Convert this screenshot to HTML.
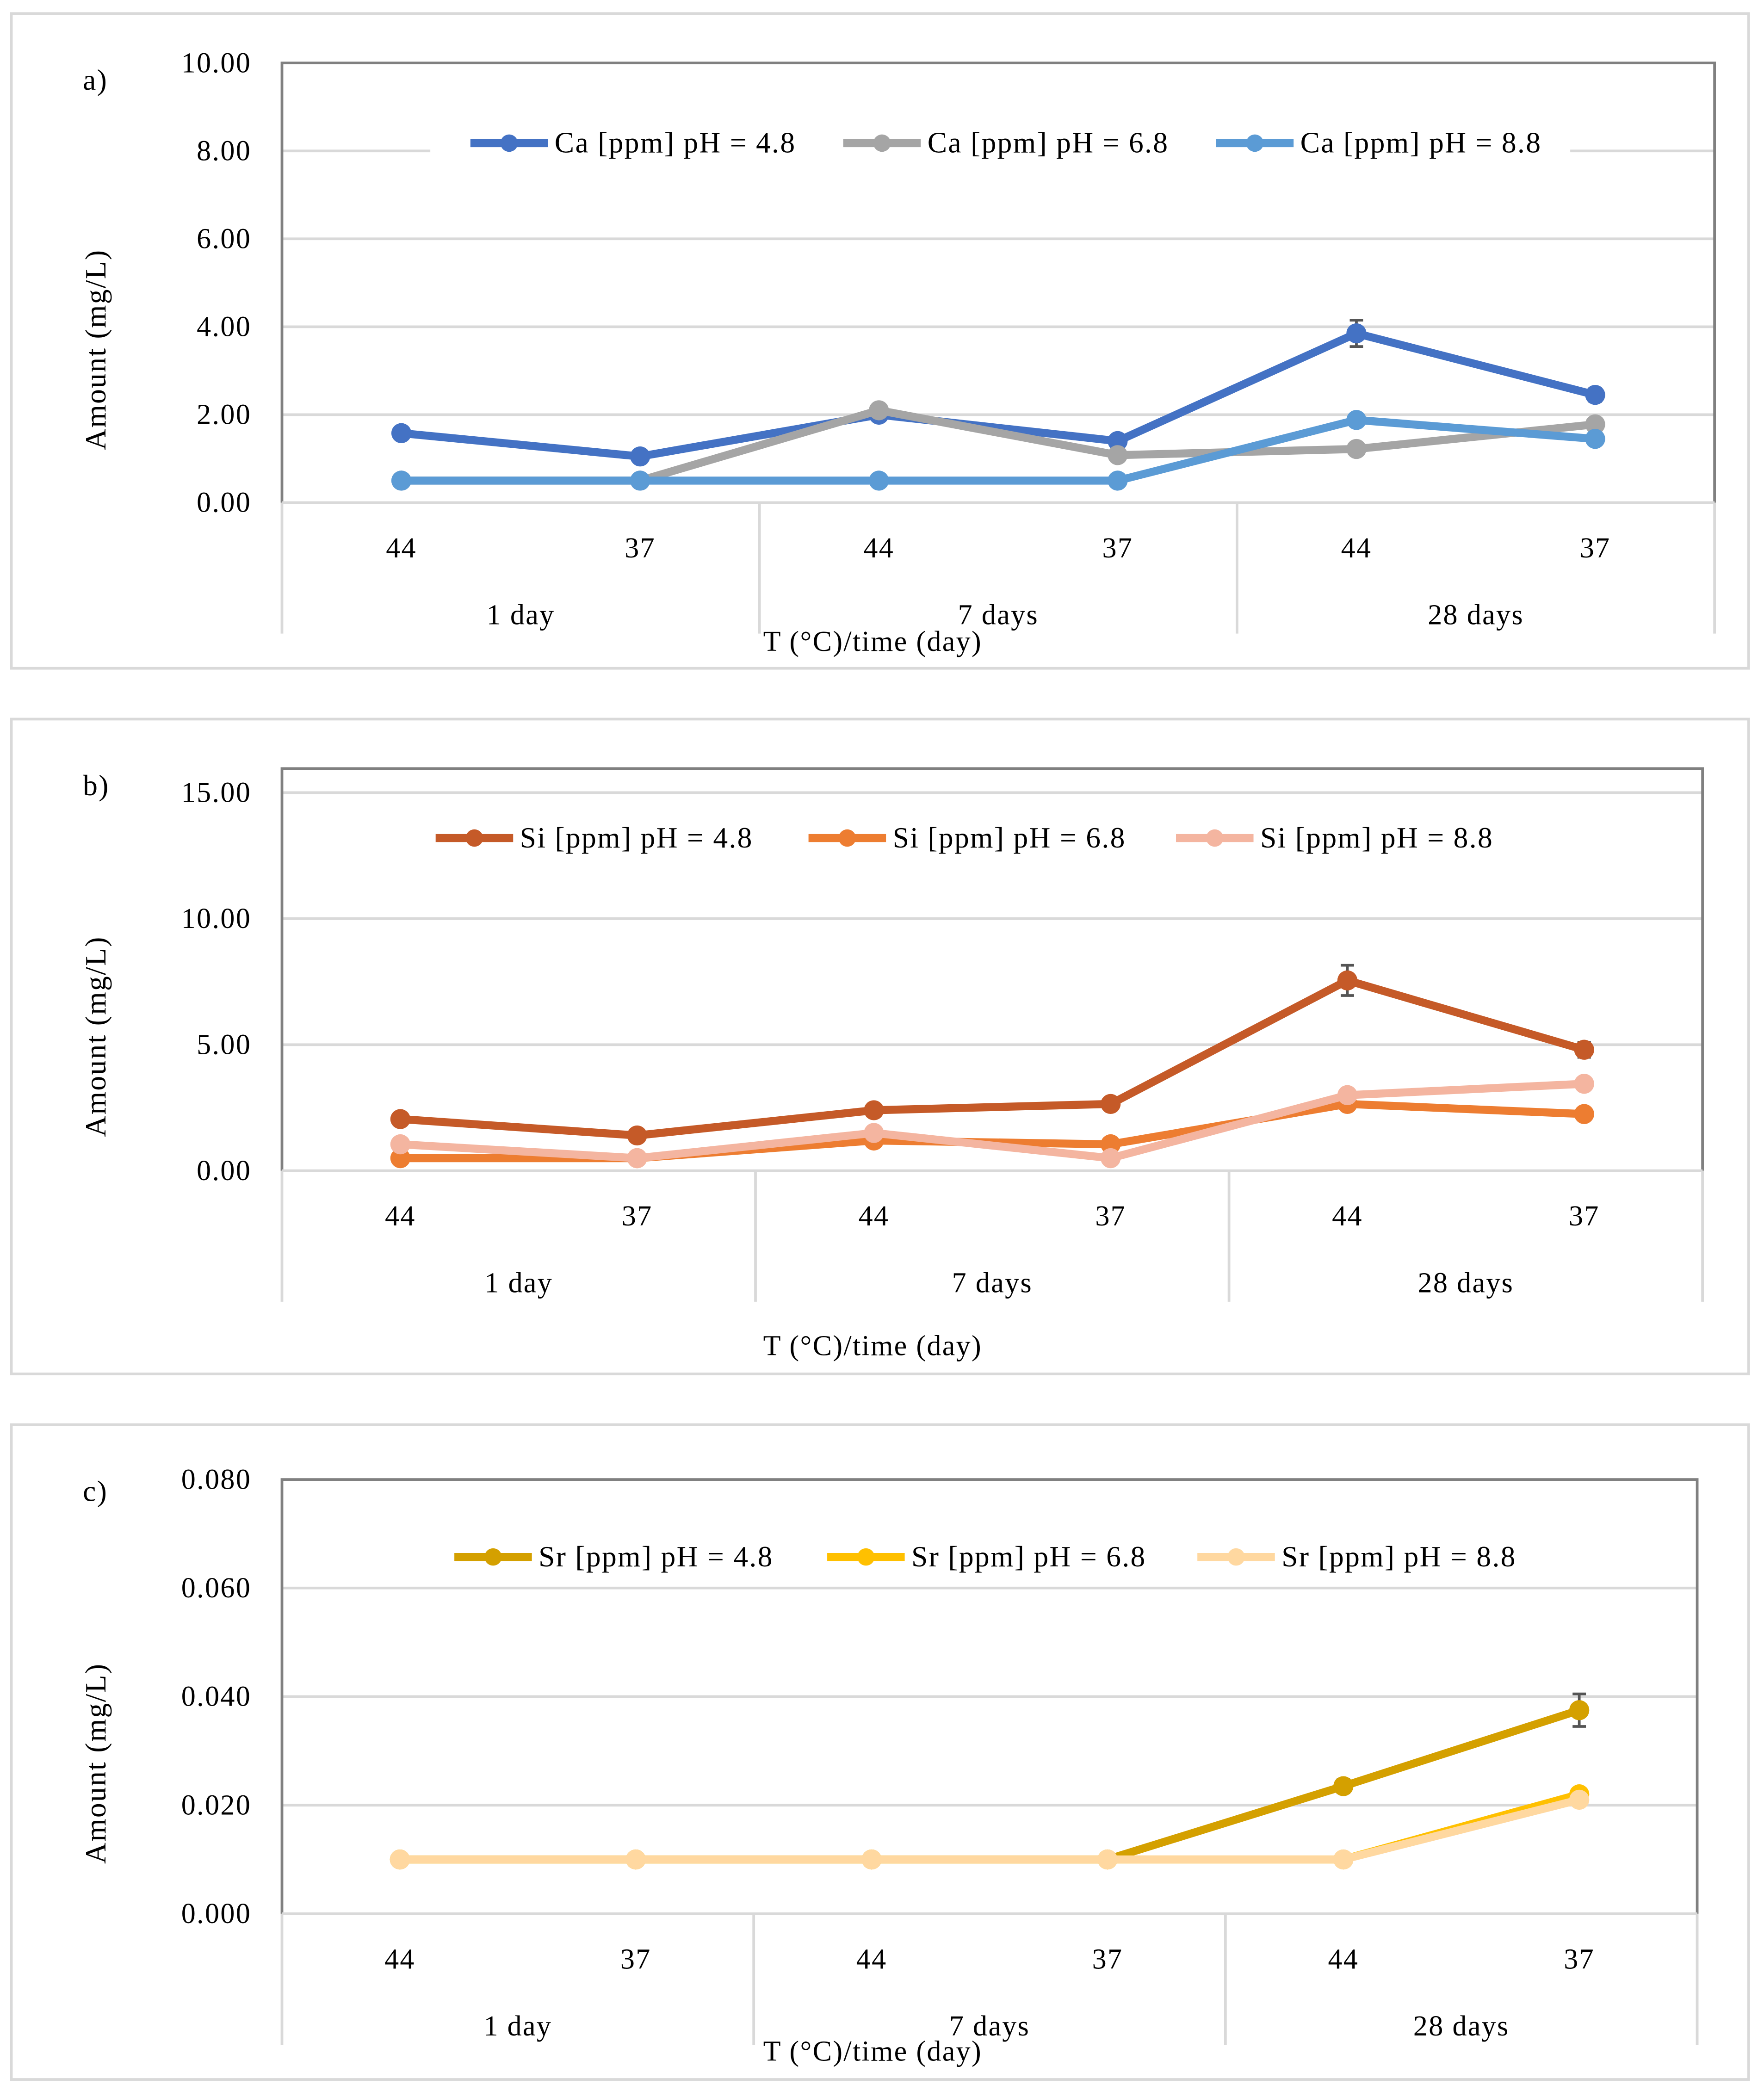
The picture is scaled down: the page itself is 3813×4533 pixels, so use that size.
<!DOCTYPE html>
<html><head><meta charset="utf-8"><style>
html,body{margin:0;padding:0;background:#fff}
svg{display:block}
text{font-family:"Liberation Serif",serif;fill:#000;letter-spacing:0.8px}
</style></head><body>
<svg id="chart" width="3813" height="4533" viewBox="0 0 1320 1569" xmlns="http://www.w3.org/2000/svg"></svg>
<script>
const categories = ["44","37","44","37","44","37"];
const groups = ["1 day","7 days","28 days"];
// Panel a (Ca)
const caLabels = ["Ca [ppm] pH = 4.8","Ca [ppm] pH = 6.8","Ca [ppm] pH = 8.8"];
const ca48 = [1.58,1.05,2.0,1.4,3.85,2.45];
const ca68 = [0.5,0.5,2.1,1.08,1.22,1.78];
const ca88 = [0.5,0.5,0.5,0.5,1.88,1.45];
const ca48Err = [0,0,0,0,0.3,0.15];
const caTicks = ["0.00","2.00","4.00","6.00","8.00","10.00"];
// Panel b (Si)
const siLabels = ["Si [ppm] pH = 4.8","Si [ppm] pH = 6.8","Si [ppm] pH = 8.8"];
const si48 = [2.05,1.4,2.4,2.65,7.55,4.8];
const si68 = [0.5,0.5,1.2,1.05,2.65,2.25];
const si88 = [1.05,0.5,1.5,0.5,3.0,3.45];
const si48Err = [0,0,0,0,0.6,0.3];
const siTicks = ["0.00","5.00","10.00","15.00"];
// Panel c (Sr)
const srLabels = ["Sr [ppm] pH = 4.8","Sr [ppm] pH = 6.8","Sr [ppm] pH = 8.8"];
const sr48 = [0.01,0.01,0.01,0.01,0.0235,0.0375];
const sr68 = [0.01,0.01,0.01,0.01,0.01,0.022];
const sr88 = [0.01,0.01,0.01,0.01,0.01,0.021];
const sr48Err = [0,0,0,0,0.0012,0.003];
const srTicks = ["0.000","0.020","0.040","0.060","0.080"];

const svg = document.getElementById('chart');
const NS = "http://www.w3.org/2000/svg";
function mk(tag, attrs, parent, txt){
  const e = document.createElementNS(NS, tag);
  for (const k in attrs) e.setAttribute(k, attrs[k]);
  if (txt !== undefined) e.textContent = txt;
  (parent||svg).appendChild(e);
  return e;
}

function panel(cfg){
  const g = mk('g', {});
  
  
  const fr = mk('rect', {x:8.5,y:cfg.fy,width:1300,height:490,fill:'#fff',stroke:'#d9d9d9','stroke-width':2}, g);
  
  
  const L = 211, R = cfg.right, T = cfg.top, B = cfg.bottom;
  const y = v => B - (v - 0) / cfg.max * (B - cfg.maxY);
  const cw = (R - L) / categories.length;
  const x = i => L + cw * (i + 0.5);
  cfg.ticks.forEach(t => {
    const v = parseFloat(t), yy = y(v);
    if (v > 0 && yy > T + 2) {
      const gl = mk('line', {x1:L,x2:R,y1:yy,y2:yy,stroke:'#d9d9d9','stroke-width':2}, g);
      
      
    }
    const tl = mk('text', {x:188,y:yy+7,'text-anchor':'end','font-size':21.5}, g, t);
    
    
  });
  const pb = mk('path', {d:`M${L},${B} L${L},${T} L${R},${T} L${R},${B}`,fill:'none',stroke:'#808080','stroke-width':2}, g);
  
  
  const xa = mk('line', {x1:L,x2:R,y1:B,y2:B,stroke:'#d9d9d9','stroke-width':2}, g);
  
  
  for (let k = 0; k <= groups.length; k++) {
    const sx = L + k * cw * 2;
    const s = mk('line', {x1:sx,x2:sx,y1:B,y2:B+98,stroke:'#d9d9d9','stroke-width':2}, g);
    
    
  }
  categories.forEach((c, i) => {
    const t = mk('text', {x:x(i),y:B+41,'text-anchor':'middle','font-size':21.5}, g, c);
    
    
  });
  groups.forEach((c, k) => {
    const t = mk('text', {x:L + cw*(2*k+1),y:B+91,'text-anchor':'middle','font-size':21.5}, g, c);
    
    
  });
  const xt = mk('text', {x:653,y:cfg.xtitleY,'text-anchor':'middle','font-size':21.5}, g, 'T (°C)/time (day)');
  
  
  const ymid = (T + B) / 2;
  const yt = mk('text', {x:0,y:0,'text-anchor':'middle','font-size':22,'letter-spacing':'2px',transform:`translate(79,${ymid+50}) rotate(-90)`}, g, 'Amount (mg/L)');
  
  
  const pl = mk('text', {x:62,y:cfg.fy+57,'font-size':22}, g, cfg.letter);
  
  
  const lb = mk('rect', {x:cfg.legBox[0],y:cfg.legY-18,width:cfg.legBox[1]-cfg.legBox[0],height:36,fill:'#fff'}, g);
  
  
  cfg.series.forEach((s, si) => {
    const pts = s.vals.map((v, i) => `${x(i)},${y(v)}`).join(' ');
    const ln = mk('polyline', {points:pts,fill:'none',stroke:s.color,'stroke-width':6,'stroke-linejoin':'round'}, g);
    
    
    if (s.err) s.err.forEach((e, i) => {
      if (!e) return;
      const y1 = y(s.vals[i]-e), y2 = y(s.vals[i]+e);
      const eb = mk('path', {d:`M${x(i)},${y1} L${x(i)},${y2} M${x(i)-5},${y1} L${x(i)+5},${y1} M${x(i)-5},${y2} L${x(i)+5},${y2}`,stroke:'#555','stroke-width':2,fill:'none'}, g);
      
      
    });
    s.vals.forEach((v, i) => {
      const m = mk('circle', {cx:x(i),cy:y(v),r:7.5,fill:s.color}, g);
      
      
    });
    const lx = cfg.legX[si];
    const ll = mk('line', {x1:lx,x2:lx+58,y1:cfg.legY,y2:cfg.legY,stroke:s.color,'stroke-width':6}, g);
    
    
    mk('circle', {cx:lx+29,cy:cfg.legY,r:6.5,fill:s.color}, g);
    const lt = mk('text', {x:lx+63,y:cfg.legY+7,'font-size':22}, g, s.label);
    
    
  });
}

panel({name:'panel-a-calcium', letter:'a)', fy:10, top:47, bottom:376, maxY:47, max:10, right:1283,
  ticks:caTicks, xtitleY:487, legY:107, legX:[352,631,910], legBox:[322,1175],
  series:[{vals:ca48,color:'#4472C4',label:caLabels[0],err:ca48Err},
          {vals:ca68,color:'#A5A5A5',label:caLabels[1]},
          {vals:ca88,color:'#5B9BD5',label:caLabels[2]}]});
panel({name:'panel-b-silicon', letter:'b)', fy:538, top:575, bottom:876, maxY:593, max:15, right:1274,
  ticks:siTicks, xtitleY:1014, legY:627, legX:[326,605,880], legBox:[300,1150],
  series:[{vals:si48,color:'#C55A28',label:siLabels[0],err:si48Err},
          {vals:si68,color:'#ED7D31',label:siLabels[1]},
          {vals:si88,color:'#F4B5A0',label:siLabels[2]}]});
panel({name:'panel-c-strontium', letter:'c)', fy:1066, top:1107, bottom:1432, maxY:1107, max:0.08, right:1270,
  ticks:srTicks, xtitleY:1542, legY:1165, legX:[340,619,896], legBox:[305,1165],
  series:[{vals:sr48,color:'#D4A000',label:srLabels[0],err:sr48Err},
          {vals:sr68,color:'#FFC000',label:srLabels[1]},
          {vals:sr88,color:'#FFD8A0',label:srLabels[2]}]});
</script>
</body></html>
